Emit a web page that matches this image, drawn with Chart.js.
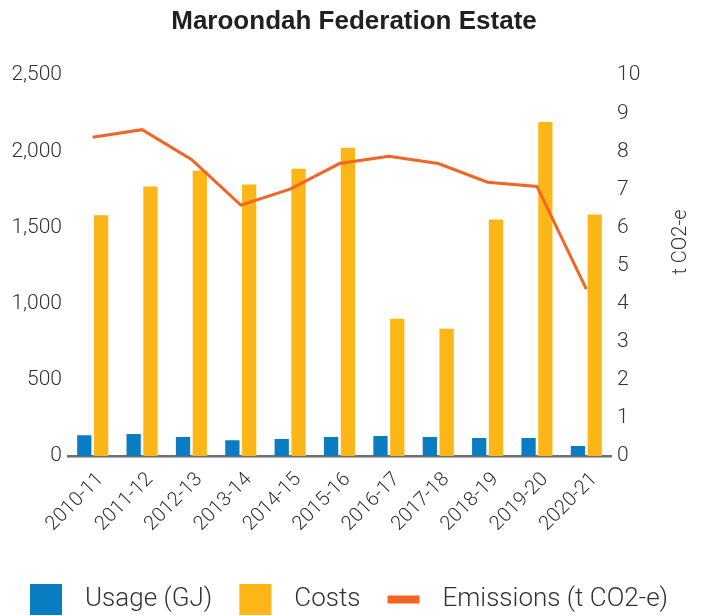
<!DOCTYPE html>
<html>
<head>
<meta charset="utf-8">
<script src="https://cdn.jsdelivr.net/npm/chart.js@4.4.1/dist/chart.umd.min.js"></script>
<style>
  html, body { margin: 0; padding: 0; background: #ffffff; }
  #wrap { position: relative; width: 705px; height: 616px; }
</style>
</head>
<body>
<div id="wrap"><canvas id="c" width="705" height="616"></canvas></div>
<script>
const chartTitle = 'Maroondah Federation Estate';
const categories = ['2010-11', '2011-12', '2012-13', '2013-14', '2014-15', '2015-16', '2016-17', '2017-18', '2018-19', '2019-20', '2020-21'];
const usageGJ = [137, 144, 124, 104, 111, 124, 131, 124, 118, 118, 65];
const costs = [1580, 1769, 1873, 1782, 1886, 2023, 901, 836, 1553, 2193, 1586];
const emissions = [8.37, 8.57, 7.79, 6.59, 7.01, 7.68, 7.87, 7.68, 7.19, 7.08, 4.38];
const seriesNames = ['Usage (GJ)', 'Costs', 'Emissions (t CO2-e)'];
const leftAxisRange = [0, 2500, 500];
const rightAxisRange = [0, 10, 1];
const rightAxisTitle = 't CO2-e';

const COLORS = ['#0A7DC2', '#FCB617', '#F26524'];

function makeSwatch(color, band) {
  const c = document.createElement('canvas');
  c.width = 65; c.height = 31;
  const g = c.getContext('2d');
  g.fillStyle = color;
  if (band) g.fillRect(23, 12, 32, 8); else g.fillRect(23, 0, 32, 31);
  return c;
}
const swatches = [makeSwatch(COLORS[0], false), makeSwatch(COLORS[1], false), makeSwatch(COLORS[2], true)];

const rightTitlePlugin = {
  id: 'rightTitle',
  afterDraw(chart) {
    const ctx = chart.ctx;
    ctx.save();
    ctx.translate(681, 242);
    ctx.rotate(-Math.PI / 2);
    ctx.font = '300 20px Roboto';
    ctx.fillStyle = '#333333';
    ctx.textAlign = 'center';
    ctx.textBaseline = 'middle';
    ctx.fillText(rightAxisTitle, 0, 0);
    ctx.restore();
  }
};

function build() {
  Chart.defaults.font.family = 'Roboto';
  Chart.defaults.color = '#333333';
  const tickFont = { family: 'Roboto', size: 21, weight: '300' };
  new Chart(document.getElementById('c'), {
    type: 'bar',
    data: {
      labels: categories,
      datasets: [
        { label: seriesNames[0], data: usageGJ, backgroundColor: COLORS[0], yAxisID: 'y', order: 1,
          categoryPercentage: 0.68, barPercentage: 0.85 },
        { label: seriesNames[1], data: costs, backgroundColor: COLORS[1], yAxisID: 'y', order: 1,
          categoryPercentage: 0.68, barPercentage: 0.85 },
        { label: seriesNames[2], data: emissions, type: 'line', borderColor: COLORS[2], backgroundColor: COLORS[2],
          borderWidth: 3, pointRadius: 0, tension: 0, yAxisID: 'y1', order: 0 }
      ]
    },
    options: {
      responsive: false,
      animation: false,
      devicePixelRatio: 1,
      layout: { padding: { left: 3, right: 0, top: 0, bottom: -6 } },
      plugins: {
        title: {
          display: true, text: chartTitle, color: '#231f20',
          font: { family: 'Liberation Sans', size: 26, weight: 'bold' },
          padding: { top: 6, bottom: 38 }
        },
        legend: {
          position: 'bottom', align: 'start',
          labels: {
            usePointStyle: true, pointStyleWidth: 65, padding: 4,
            color: '#333333',
            font: { family: 'Roboto', size: 26, weight: '300' },
            sort: (a, b) => a.datasetIndex - b.datasetIndex,
            generateLabels(chart) {
              const items = Chart.defaults.plugins.legend.labels.generateLabels(chart);
              items.forEach(it => { it.pointStyle = swatches[it.datasetIndex]; });
              return items;
            }
          }
        },
        tooltip: { enabled: false }
      },
      scales: {
        x: {
          grid: { display: false, drawTicks: false },
          border: { display: true, color: '#6d6e71', width: 2.5 },
          ticks: { maxRotation: 45, minRotation: 45, font: { family: 'Roboto', size: 20, weight: '300' }, color: '#333333', padding: 12, labelOffset: 8 },
          afterFit(scale) { scale.height = 126; }
        },
        y: {
          position: 'left', min: leftAxisRange[0], max: leftAxisRange[1],
          grid: { display: false, drawTicks: false }, border: { display: false },
          ticks: { stepSize: leftAxisRange[2], font: tickFont, color: '#333333', padding: 6 },
          afterFit(scale) { scale.width = 65; }
        },
        y1: {
          position: 'right', min: rightAxisRange[0], max: rightAxisRange[1],
          grid: { display: false, drawTicks: false }, border: { display: false },
          ticks: { stepSize: rightAxisRange[2], font: tickFont, color: '#333333', padding: 6 },
          afterFit(scale) { scale.width = 94; }
        }
      }
    },
    plugins: [rightTitlePlugin]
  });
}

const fontLoads = [
  '300 20px Roboto', '400 20px Roboto', 'bold 26px "Liberation Sans"'
].map(f => document.fonts ? document.fonts.load(f).catch(() => null) : Promise.resolve());
Promise.all(fontLoads).then(build, build);
</script>
</body>
</html>
